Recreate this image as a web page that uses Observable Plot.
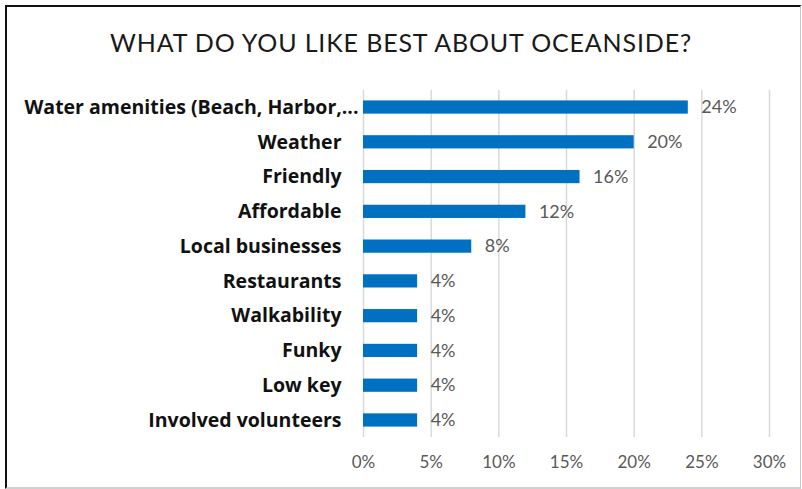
<!DOCTYPE html>
<html>
<head>
<meta charset="utf-8">
<script src="https://cdn.jsdelivr.net/npm/d3@7"></script>
<script src="https://cdn.jsdelivr.net/npm/@observablehq/plot@0.6"></script>
<style>
  html, body { margin: 0; padding: 0; background: #fff; }
  #frame {
    position: absolute; left: 5px; top: 5px; width: 793px; height: 480px;
    border-left: 2px solid #111; border-top: 2px solid #111;
    border-right: 1px solid #c8c8c8; border-bottom: 2px solid #d0d0d0;
    box-sizing: content-box;
  }
  #title {
    position: absolute; left: 0; top: 27px; width: 802px; text-align: center;
    font-family: Lato, sans-serif; font-weight: 400; font-size: 25px; letter-spacing: 0.85px; color: #1a1a1a;
  }
  #chart { position: absolute; left: 0; top: 80px; }
</style>
</head>
<body>
<div id="frame"></div>
<div id="title">WHAT DO YOU LIKE BEST ABOUT OCEANSIDE?</div>
<div id="chart"></div>
<script>
const categories = [
  "Water amenities (Beach, Harbor,...",
  "Weather",
  "Friendly",
  "Affordable",
  "Local businesses",
  "Restaurants",
  "Walkability",
  "Funky",
  "Low key",
  "Involved volunteers"
];
const values = [0.24, 0.20, 0.16, 0.12, 0.08, 0.04, 0.04, 0.04, 0.04, 0.04];
const xTicks = [0, 0.05, 0.10, 0.15, 0.20, 0.25, 0.30];

const data = categories.map((c, i) => ({category: c, value: values[i]}));
const pct = d3.format(".0%");

const chart = Plot.plot({
  width: 802,
  height: 400,
  marginLeft: 363,
  marginRight: 33,
  marginTop: 10,
  marginBottom: 43,
  style: {fontFamily: "Lato, sans-serif", background: "transparent", overflow: "visible"},
  x: {domain: [0, 0.30], ticks: xTicks, tickFormat: pct},
  y: {domain: categories, paddingInner: 0.62, paddingOuter: 0.3, round: false, axis: null},
  marks: [
    Plot.ruleX(xTicks, {stroke: "#d9d9d9", strokeWidth: 1.5}),
    Plot.barX(data, {y: "category", x: "value", fill: "#0070C0"}),
    Plot.text(data, {y: "category", x: "value", text: d => pct(d.value), textAnchor: "start", dx: 13, fill: "#595959", fontSize: 18}),
    Plot.axisX({ticks: xTicks, tickFormat: pct, tickSize: 0, tickPadding: 18, fontSize: 17, color: "#595959", label: null}),
    Plot.text(data.filter((d, i) => i === 0), {y: "category", text: "category", frameAnchor: "left", textAnchor: "end", dx: -5, fontSize: 19.5, fontWeight: "bold", fill: "#111", fontFamily: "Open Sans"}),
    Plot.text(data.filter((d, i) => i > 0), {y: "category", text: "category", frameAnchor: "left", textAnchor: "end", dx: -22, fontSize: 19.5, fontWeight: "bold", fill: "#111", fontFamily: "Open Sans"})
  ]
});
document.getElementById("chart").appendChild(chart);
</script>
</body>
</html>
